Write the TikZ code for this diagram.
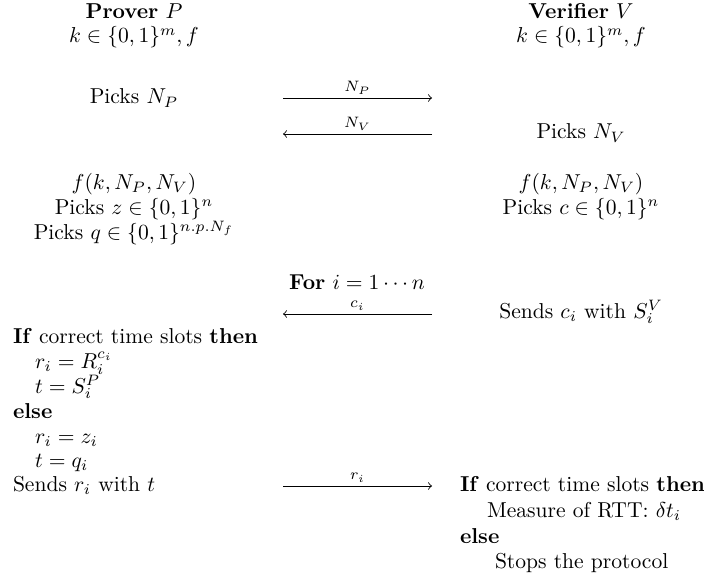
\documentclass[tikz,border=0pt]{standalone}
\usepackage{amsmath,amssymb}
\begin{document}
\begin{tikzpicture}[x=0.4638pt,y=-0.4638pt,
  every node/.style={inner sep=0pt,outer sep=0pt},
  ctr/.style={anchor=base},
  lft/.style={anchor=base west},
  msg/.style={->,>=to,line width=0.4pt},
  lbl/.style={midway,above=1.8pt,font=\scriptsize}]
\useasboundingbox (0,0) rectangle (704,584);
% headers
\node[ctr] (ph) at (134,19) {\textbf{Prover} $P$};
\node[ctr] (pk) at (134,43) {$k\in\{0,1\}^m,f$};
\node[ctr] (vh) at (581,19) {\textbf{Verifier} $V$};
\node[ctr] (vk) at (581,43) {$k\in\{0,1\}^m,f$};
% nonces
\node[ctr] (pnp) at (134,104) {Picks $N_P$};
\node[ctr] (vnv) at (581,139) {Picks $N_V$};
\coordinate (a1l) at (283,98); \coordinate (a1r) at (432,98);
\coordinate (a2l) at (283,134); \coordinate (a2r) at (432,134);
\draw[msg] (a1l) -- (a1r) node[lbl] {$N_P$};
\draw[msg] (a2r) -- (a2l) node[lbl] {$N_V$};
% precomputation
\node[ctr] (pf) at (134,189) {$f(k,N_P,N_V)$};
\node[ctr] (pz) at (134,214) {Picks $z\in\{0,1\}^n$};
\node[ctr] (pq) at (134,239) {Picks $q\in\{0,1\}^{n.p.N_f}$};
\node[ctr] (vf) at (581,189) {$f(k,N_P,N_V)$};
\node[ctr] (vc) at (581,214) {Picks $c\in\{0,1\}^n$};
% loop
\node[ctr] (for) at (357,289) {\textbf{For} $i=1\cdots n$};
\coordinate (a3l) at (283,314); \coordinate (a3r) at (432,314);
\draw[msg] (a3r) -- (a3l) node[lbl] {$c_i$};
\node[ctr] (vs) at (581,318) {Sends $c_i$ with $S_i^V$};
% prover branch
\node[lft] (pif) at (13,343) {\textbf{If} correct time slots \textbf{then}};
\node[lft] (pr1) at (35,368) {$r_i=R_i^{c_i}$};
\node[lft] (pt1) at (35,393) {$t=S_i^P$};
\node[lft] (pel) at (13,418) {\textbf{else}};
\node[lft] (pr2) at (35,443) {$r_i=z_i$};
\node[lft] (pt2) at (35,467) {$t=q_i$};
\node[lft] (psend) at (13,491) {Sends $r_i$ with $t$};
\coordinate (a4l) at (283,486); \coordinate (a4r) at (432,486);
\draw[msg] (a4l) -- (a4r) node[lbl] {$r_i$};
% verifier branch
\node[lft] (vif) at (460,491) {\textbf{If} correct time slots \textbf{then}};
\node[lft] (vm) at (487,517) {Measure of RTT: $\delta t_i$};
\node[lft] (vel) at (460,543) {\textbf{else}};
\node[lft] (vst) at (495,568) {Stops the protocol};
\end{tikzpicture}
\end{document}
